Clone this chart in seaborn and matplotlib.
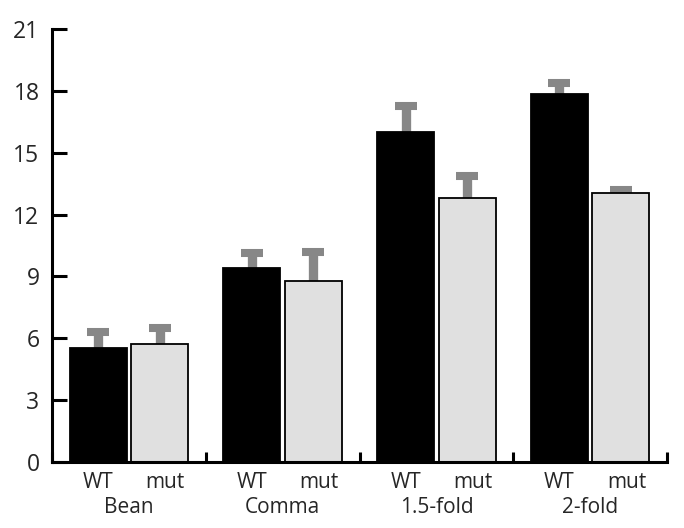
import pandas as pd
import seaborn as sns
import matplotlib.pyplot as plt

# data
stages = ['Bean', 'Comma', '1.5-fold', '2-fold']
genotypes = ['WT', 'mut']
wt_mean = [5.53, 9.42, 16.02, 17.85]
mut_mean = [5.72, 8.79, 12.80, 13.04]
wt_err = [0.77, 0.72, 1.24, 0.53]
mut_err = [0.78, 1.39, 1.07, 0.15]
y_ticks = [0, 3, 6, 9, 12, 15, 18, 21]

df = pd.DataFrame({
    'stage': stages * 2,
    'genotype': ['WT'] * len(stages) + ['mut'] * len(stages),
    'value': wt_mean + mut_mean,
    'err': wt_err + mut_err,
})

sns.set_style('ticks')
plt.rcParams['font.family'] = ['Open Sans', 'DejaVu Sans']

fig = plt.figure(figsize=(6.84, 5.28), dpi=100)
ax = fig.add_axes([52 / 684, 1 - 462 / 528, 615 / 684, 433 / 528])

sns.barplot(
    data=df, x='stage', y='value', hue='genotype',
    order=stages, hue_order=genotypes,
    palette={'WT': 'black', 'mut': '#e0e0e0'},
    edgecolor='black', linewidth=1.3,
    width=0.8, gap=0.075, errorbar=None, legend=False, ax=ax)

# upward-only error bars with heavy grey caps
bars = ax.patches
xs = [b.get_x() + b.get_width() / 2 for b in bars]
tops = [b.get_height() for b in bars]
errs = list(df['err'])
ends = [t + e for t, e in zip(tops, errs)]
grey = '#878787'
ax.vlines(xs, tops, ends, color=grey, lw=6.7, zorder=0.5)
ax.plot(xs, ends, ls='none', marker='_', ms=15.6, mew=5.8, color=grey,
        zorder=0.6)

# per-bar genotype labels (mut sits a touch right of its bar)
for x, g in zip(xs, df['genotype']):
    dx = 4 if g == 'mut' else 0
    ax.annotate(g, xy=(x, 0), xycoords=('data', 'axes fraction'),
                xytext=(dx, -7), textcoords='offset points',
                ha='center', va='top', fontsize=15)

ax.set_xlim(-0.5, len(stages) - 0.5)
ax.set_ylim(0, 21)
ax.set_yticks(y_ticks)
ax.set_xticks(range(len(stages)), labels=stages)
ax.set_xticks([i - 0.5 for i in range(len(stages) + 1)], minor=True)
ax.tick_params(axis='x', which='major', length=0, pad=25, labelsize=15)
ax.tick_params(axis='x', which='minor', direction='in', length=7.5,
               width=2.2, color='black')
ax.tick_params(axis='y', direction='in', length=11, width=2.2,
               pad=9, labelsize=16.5, color='black')
ax.set_xlabel('')
ax.set_ylabel('')

sns.despine(ax=ax)
for side in ['left', 'bottom']:
    ax.spines[side].set_linewidth(2.2)
    ax.spines[side].set_color('black')

fig.savefig('out.png', dpi=100)
